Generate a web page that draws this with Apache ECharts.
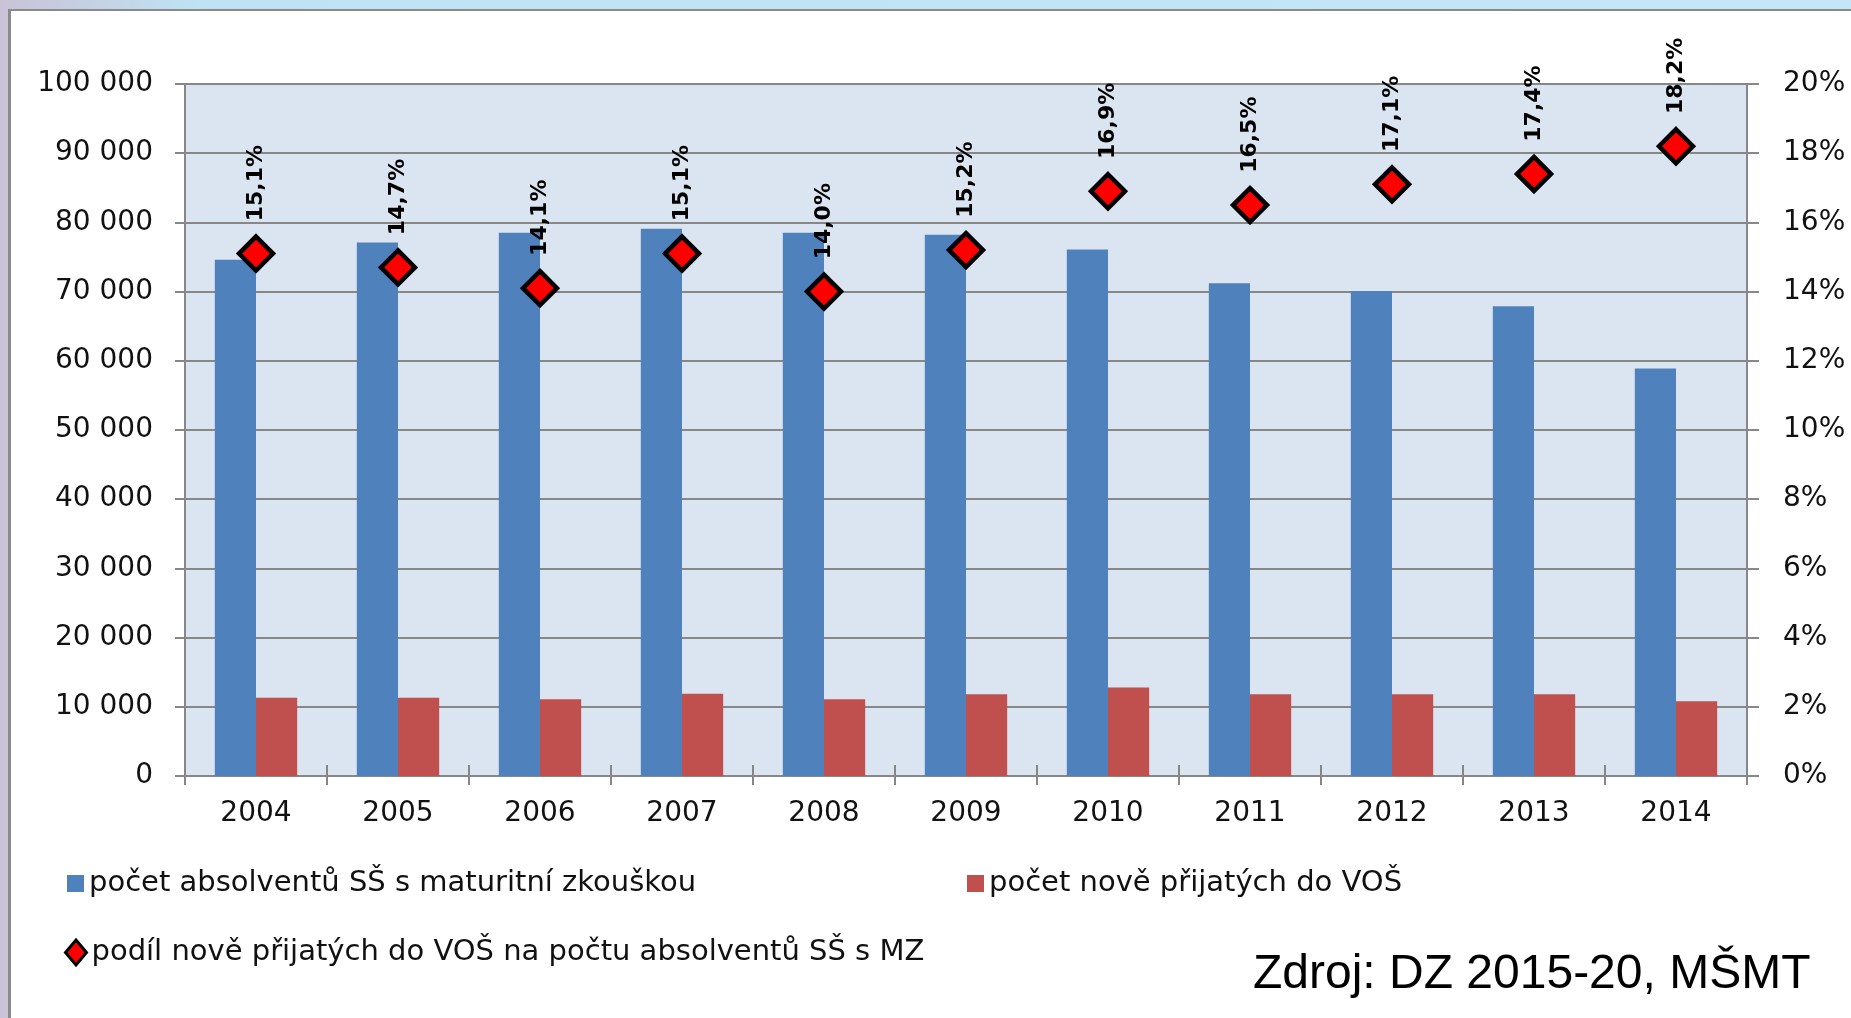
<!DOCTYPE html>
<html lang="cs">
<head>
  <meta charset="UTF-8" />
  <title>Absolventi SŠ a přijatí do VOŠ</title>
  <script src="https://cdn.jsdelivr.net/npm/echarts@6/dist/echarts.min.js"></script>
  <style>
    html, body {
      margin: 0;
      padding: 0;
      width: 1851px;
      height: 1018px;
      overflow: hidden;
      background: linear-gradient(90deg, #c9c3d6 0px, #bfe3f4 200px, #c4e6f6 100%);
    }
    #frame {
      position: absolute;
      left: 8px;
      top: 9px;
      width: 1860px;
      height: 1030px;
      background: #ffffff;
      border-left: 3px solid #8a8a8a;
      border-top: 2px solid #8a8a8a;
    }
    #chart {
      position: absolute;
      left: 0;
      top: 0;
      width: 1851px;
      height: 1018px;
    }
  </style>
</head>
<body>
  <div id="frame"></div>
  <div id="chart"></div>

  <script>
    const years = ["2004", "2005", "2006", "2007", "2008", "2009", "2010", "2011", "2012", "2013", "2014"];
    const graduates = [74600, 77100, 78500, 79100, 78500, 78200, 76100, 71200, 70100, 67900, 58900];
    const admitted = [11300, 11300, 11100, 11900, 11100, 11800, 12800, 11800, 11800, 11800, 10800];
    const sharePct = [15.1, 14.7, 14.1, 15.1, 14.0, 15.2, 16.9, 16.5, 17.1, 17.4, 18.2];

    const nameGrad = "počet absolventů SŠ s maturitní zkouškou";
    const nameAdm = "počet nově přijatých do VOŠ";
    const nameShare = "podíl nově přijatých do VOŠ na počtu absolventů SŠ s MZ";

    const gridColor = "#878787";
    const textColor = "#111111";
    const font = "DejaVu Sans";

    const chart = echarts.init(document.getElementById("chart"));

    chart.setOption({
      animation: false,
      textStyle: { fontFamily: font, color: textColor },
      grid: {
        left: 185,
        right: 104,
        top: 84,
        bottom: 242,
        show: true,
        backgroundColor: "#dbe5f1",
        borderWidth: 0
      },
      legend: [
        {
          data: [nameGrad],
          left: 62,
          top: 864,
          icon: "rect",
          itemWidth: 17,
          itemHeight: 17,
          itemGap: 6,
          textStyle: { fontFamily: font, fontSize: 29, color: textColor }
        },
        {
          data: [nameAdm],
          left: 962,
          top: 864,
          icon: "rect",
          itemWidth: 17,
          itemHeight: 17,
          textStyle: { fontFamily: font, fontSize: 29, color: textColor }
        },
        {
          data: [nameShare],
          left: 59,
          top: 933,
          icon: "diamond",
          itemWidth: 21,
          itemHeight: 25,
          itemStyle: { borderWidth: 3, borderColor: "#000", opacity: 1 },
          textStyle: { fontFamily: font, fontSize: 29, color: textColor }
        }
      ],
      xAxis: [
        {
          type: "category",
          data: years,
          position: "bottom",
          axisLine: { lineStyle: { color: gridColor, width: 2 } },
          axisTick: { show: true, length: 9, lineStyle: { color: gridColor, width: 2 } },
          axisLabel: { margin: 24, fontSize: 28, color: textColor, fontFamily: font }
        },
        {
          type: "category",
          data: years,
          position: "top",
          axisLine: { show: false },
          axisTick: { show: true, length: 11, lineStyle: { color: gridColor, width: 2 } },
          axisLabel: { show: false }
        }
      ],
      yAxis: [
        {
          type: "value",
          min: 0,
          max: 100000,
          interval: 10000,
          axisLine: { show: true, lineStyle: { color: gridColor, width: 2 } },
          axisTick: { show: true, length: 10, lineStyle: { color: gridColor, width: 2 } },
          splitLine: { lineStyle: { color: gridColor, width: 2 } },
          axisLabel: {
            margin: 32,
            fontSize: 28,
            color: textColor,
            fontFamily: font,
            formatter: v => String(v).replace(/\B(?=(\d{3})+(?!\d))/g, " ")
          }
        },
        {
          type: "value",
          min: 0,
          max: 20,
          interval: 2,
          position: "right",
          axisLine: { show: true, lineStyle: { color: gridColor, width: 2 } },
          axisTick: { show: true, length: 12, lineStyle: { color: gridColor, width: 2 } },
          splitLine: { show: false },
          axisLabel: {
            margin: 36,
            fontSize: 28,
            color: textColor,
            fontFamily: font,
            formatter: v => v + "%"
          }
        }
      ],
      series: [
        {
          name: nameGrad,
          type: "bar",
          data: graduates,
          barWidth: "29%",
          barGap: "0%",
          itemStyle: { color: "#4f81bd" }
        },
        {
          name: nameAdm,
          type: "bar",
          data: admitted,
          barWidth: "29%",
          itemStyle: { color: "#c0504d" }
        },
        {
          name: nameShare,
          type: "scatter",
          yAxisIndex: 1,
          data: sharePct,
          symbol: "diamond",
          symbolSize: [34, 34],
          z: 5,
          itemStyle: { color: "#ff0000", borderColor: "#000", borderWidth: 4.5, opacity: 1 },
          label: {
            show: true,
            position: "top",
            distance: 8,
            rotate: 90,
            align: "left",
            verticalAlign: "middle",
            offset: [5, 0],
            fontFamily: font,
            fontSize: 22,
            fontWeight: "bold",
            color: "#000",
            formatter: p => p.value.toFixed(1).replace(".", ",") + "%"
          }
        }
      ],
      graphic: [
        {
          type: "text",
          left: 1253,
          top: 951,
          style: {
            text: "Zdroj: DZ 2015-20, MŠMT",
            fontFamily: "Liberation Sans",
            fontSize: 48,
            fill: "#000"
          }
        }
      ]
    });
  </script>
</body>
</html>
